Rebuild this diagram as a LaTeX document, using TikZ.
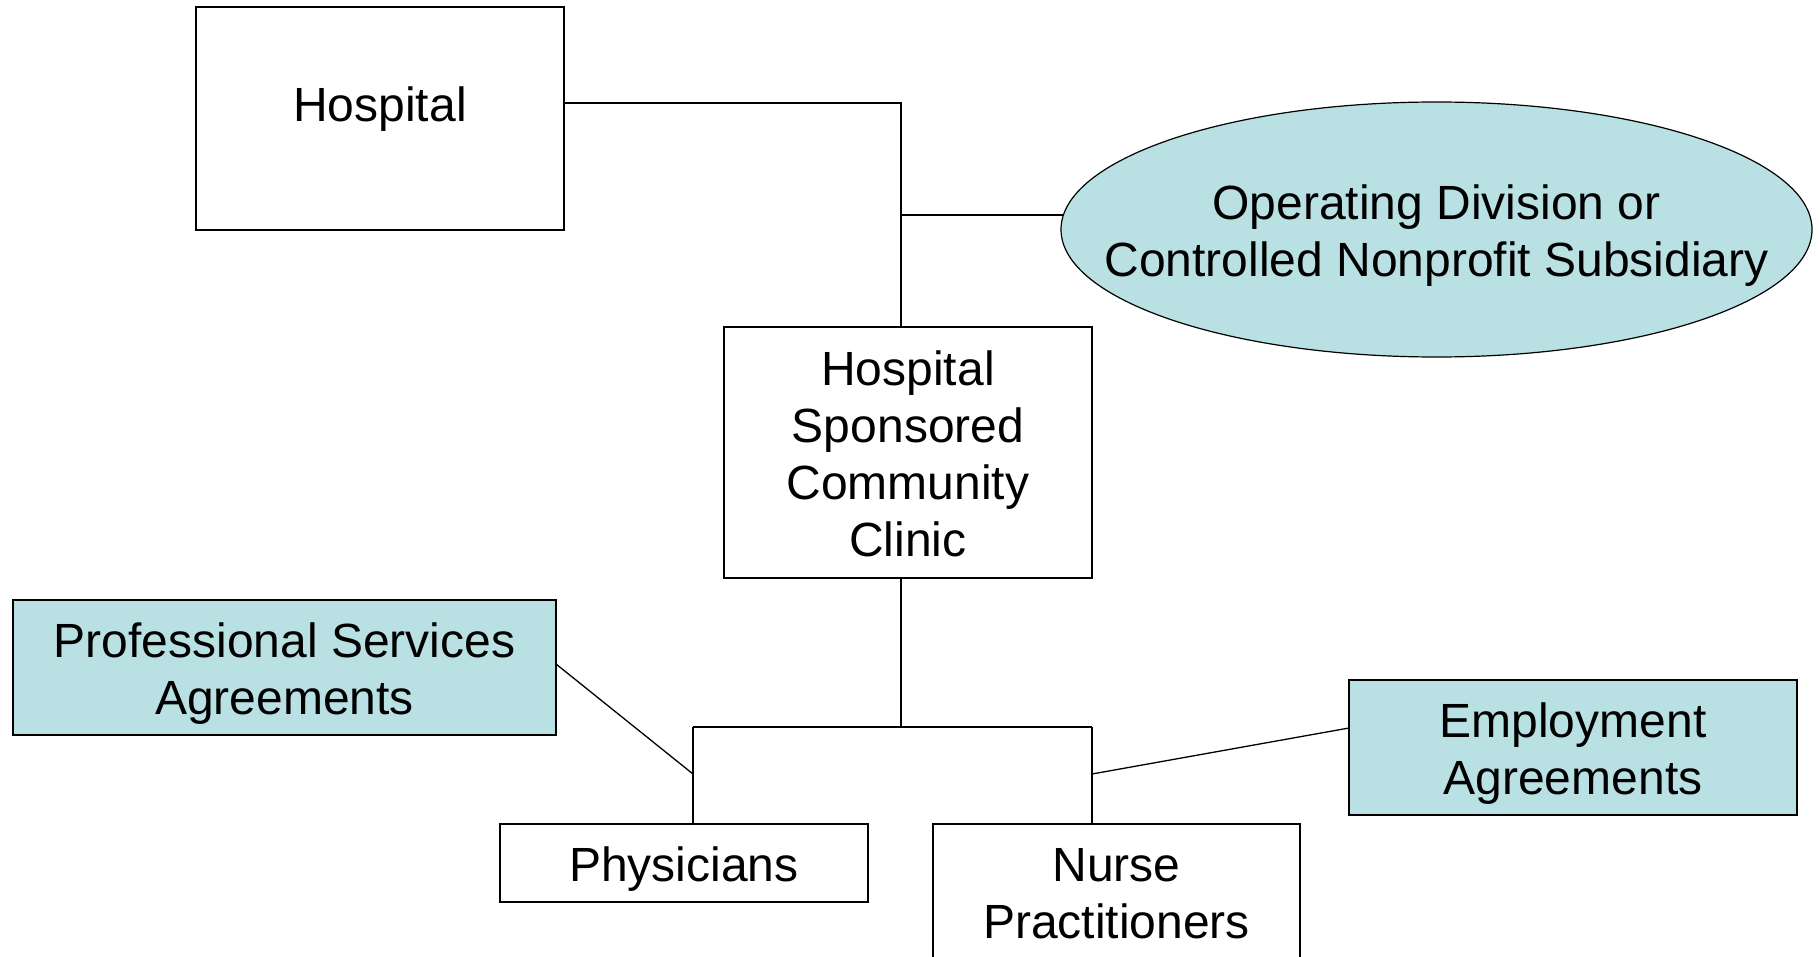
\documentclass[tikz,border=0pt]{standalone}
\usepackage{fontspec}
\setmainfont{Liberation Sans}
\usepackage{xcolor}
\usetikzlibrary{positioning,shapes.geometric}

\definecolor{paleteal}{RGB}{185,224,227}

\begin{document}
\begin{tikzpicture}[
   x=0.5pt,y=-0.5pt,
   every node/.style={font=\fontsize{24}{28.5}\selectfont,inner sep=0pt,outer sep=0pt},
   box/.style={draw,rectangle,line width=1pt,align=center},
   shaded/.style={box,fill=paleteal},
   oval/.style={draw,line width=0.6pt,fill=paleteal},
   conn/.style={line width=0.65pt,black}
]
\clip (0,0) rectangle (1820,957);
\fill[white] (0,0) rectangle (1820,957);

% top level
\node[box,minimum width=184pt,minimum height=111.5pt,text depth=14pt] (hosp) at (380,118.5) {Hospital};
\coordinate (subsC) at (1436.5,229.5);
\filldraw[oval] (subsC) ellipse [x radius=375.5, y radius=127.5];
\node[align=center,text height=52.4pt] (subs) at (subsC)
   {Operating Division or\\Controlled Nonprofit Subsidiary};

% clinic
\node[box,minimum width=184pt,minimum height=125.5pt,text height=104pt] (clinic) at (908,452.5)
   {Hospital\\Sponsored\\Community\\Clinic};

% agreements
\node[shaded,minimum width=271.5pt,minimum height=67.5pt,text height=51.8pt] (psa) at (284.5,667.5)
   {Professional Services\\Agreements};
\node[shaded,minimum width=224pt,minimum height=67.5pt,text height=51.8pt] (emp) at (1573,747.5)
   {Employment\\Agreements};

% staff
\node[box,minimum width=184pt,minimum height=39pt,text height=23pt] (phys) at (684,863) {Physicians};
\node[box,minimum width=183.5pt,minimum height=70pt] (np) at (1116.5,894)
   {Nurse\\Practitioners};

% junctions
\coordinate (top) at (901,103);
\coordinate (br) at (901,215);
\coordinate (subsW) at (1063.6,215);
\coordinate (bar) at (901,727);
\coordinate (barL) at (693,727);
\coordinate (barR) at (1092,727);
\coordinate (psaJ) at (693,774);
\coordinate (empJ) at (1092,774);

\draw[conn] (hosp.east |- top) -- (top) -- (top |- clinic.north);
\draw[conn] (br) -- (subsW);
\draw[conn] (bar |- clinic.south) -- (bar);
\draw[conn] (barL) -- (barR);
\draw[conn] (barL) -- (barL |- phys.north);
\draw[conn] (barR) -- (barR |- np.north);
\draw[conn] (psa.east |- 0,664) -- (psaJ);
\draw[conn] (empJ) -- (emp.west |- 0,728);

\end{tikzpicture}
\end{document}
